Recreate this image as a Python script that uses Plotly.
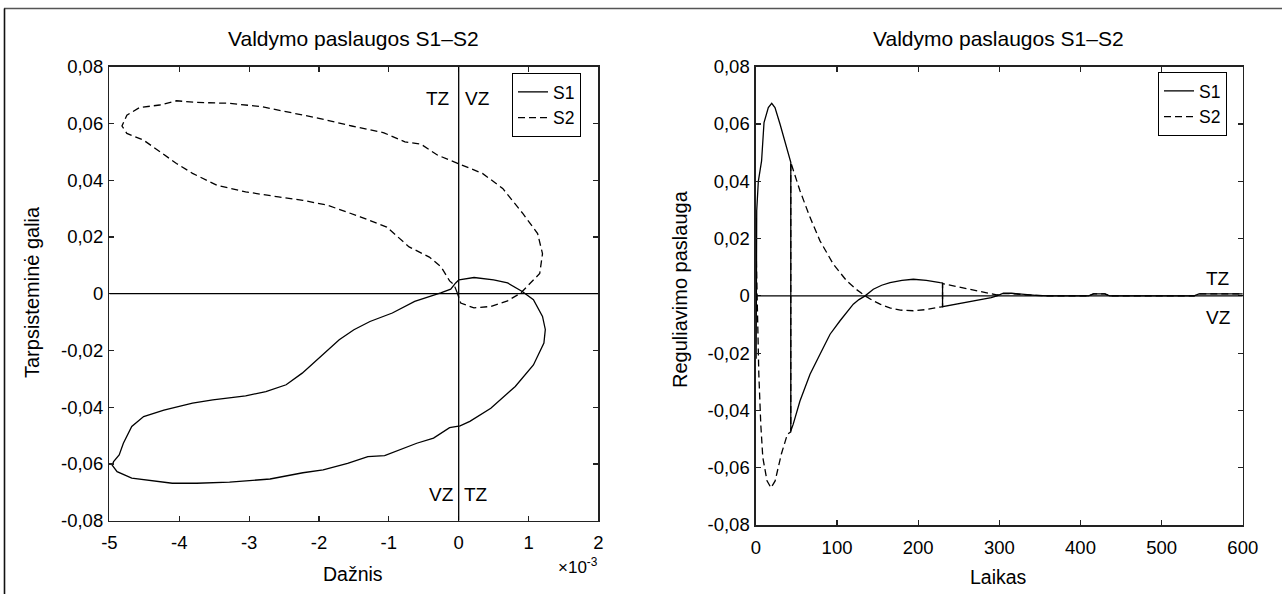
import plotly.graph_objects as go

# ---------------- data ----------------
# Left panel: phase trajectories (x in units of 1e-3)
s1_loop_x = [0.004, -0.043, -0.114, -0.257, -0.63, -0.95, -1.27, -1.5, -1.71, -2.03, -2.24, -2.47, -2.76,
             -3.05, -3.52, -3.81, -4.22, -4.51, -4.68, -4.8, -4.83, -4.86, -4.94, -4.96, -4.89, -4.68,
             -4.1, -3.75, -3.28, -2.7, -2.23, -1.94, -1.59, -1.3, -1.06, -0.6, -0.36, -0.13, 0.02, 0.16,
             0.46, 0.81, 1.07, 1.22, 1.24, 1.2, 1.07, 0.91, 0.7, 0.5, 0.22, 0.004]
s1_loop_y = [0.0049, 0.0038, 0.0016, 0.0003, -0.0027, -0.0068, -0.0098, -0.0127, -0.0162, -0.0233,
             -0.028, -0.0321, -0.0345, -0.036, -0.0374, -0.0386, -0.041, -0.0433, -0.0468, -0.0527,
             -0.0545, -0.0568, -0.0592, -0.0604, -0.0627, -0.065, -0.0668, -0.0668, -0.0664, -0.0653,
             -0.0631, -0.0621, -0.0598, -0.0574, -0.0571, -0.0527, -0.0509, -0.0472, -0.0466, -0.045,
             -0.0404, -0.0327, -0.0251, -0.0174, -0.0126, -0.008, -0.0021, 0.0008, 0.0038, 0.0049,
             0.0057, 0.0049]
s2_loop_x = [-0.019, -0.067, -0.13, -0.25, -0.42, -0.71, -1.03, -1.41, -1.88, -2.23, -2.58, -3.05, -3.46,
             -3.81, -4.04, -4.34, -4.51, -4.75, -4.82, -4.75, -4.57, -4.28, -4.04, -3.75, -3.28, -2.82,
             -2.47, -2.0, -1.53, -1.07, -0.77, -0.54, -0.3, 0.0, 0.34, 0.63, 0.92, 1.13, 1.2, 1.16, 1.03,
             0.886, 0.7, 0.457, 0.219, 0.029, -0.019]
s2_loop_y = [0.0002, 0.0032, 0.0045, 0.0094, 0.0129, 0.0165, 0.0235, 0.0271, 0.0312, 0.0329, 0.0341,
             0.0359, 0.0382, 0.0424, 0.0459, 0.0512, 0.0541, 0.0565, 0.0591, 0.0629, 0.0656, 0.0665,
             0.068, 0.0674, 0.0671, 0.0659, 0.0641, 0.0618, 0.0591, 0.0567, 0.0535, 0.0527, 0.0488,
             0.0459, 0.0424, 0.0371, 0.0282, 0.0212, 0.0141, 0.0071, 0.0038, 0.0002, -0.0025, -0.0045,
             -0.005, -0.0033, 0.0002]

# Right panel: time series
t_s1 = [0.3, 1, 3, 7, 10, 15.3, 19.5, 23.5, 29.7, 35.9, 43, 43, 46, 54.3, 66.7, 79, 91.4, 103.7, 112,
        120, 127, 134.6, 144.7, 155, 165.3, 180, 194, 210, 227, 230, 230, 250, 270, 290, 297, 305,
        315, 330, 345, 360, 410, 416, 430, 436, 540, 546, 600]
s1_val = [-0.022, 0.0297, 0.04, 0.0471, 0.0605, 0.0657, 0.0672, 0.0657, 0.06, 0.0541, 0.0466, -0.0472,
          -0.0448, -0.0367, -0.0274, -0.0204, -0.0134, -0.0087, -0.0056, -0.0029, -0.0013, 0.0, 0.0023,
          0.0037, 0.0046, 0.0054, 0.0058, 0.0054, 0.0046, 0.0045, -0.0038, -0.0028, -0.0017, -0.0006,
          0.0, 0.0009, 0.0009, 0.0005, 0.0002, 0.0, 0.0, 0.0007, 0.0007, 0.0, 0.0, 0.0007, 0.0007]
t_s2 = [0, 1.5, 3.6, 6, 8.5, 13.7, 18.6, 23.7, 31.3, 38.8, 43, 43, 54.3, 66.7, 79, 95.5, 112, 124,
        134.6, 145, 153, 165, 178, 194, 210, 227, 230, 230, 250, 270, 290, 297, 305, 315, 330, 345,
        360, 410, 416, 430, 436, 540, 546, 600]
s2_val = [0.02, -0.005, -0.0273, -0.0448, -0.0564, -0.0646, -0.067, -0.0646, -0.0553, -0.0483, -0.0475,
          0.0466, 0.0367, 0.0274, 0.0192, 0.011, 0.0052, 0.0022, 0.0, -0.0018, -0.0029, -0.0042, -0.005,
          -0.0052, -0.0048, -0.0039, -0.0038, 0.0043, 0.0031, 0.0019, 0.0007, 0.0003, 0.0008, 0.0008,
          0.0004, 0.0001, 0.0, 0.0, 0.0007, 0.0007, 0.0, 0.0, 0.0007, 0.0007]

# Tick labels
y_ticks = [-0.08, -0.06, -0.04, -0.02, 0, 0.02, 0.04, 0.06, 0.08]
y_ticktext = ["-0,08", "-0,06", "-0,04", "-0,02", "0", "0,02", "0,04", "0,06", "0,08"]
x1_ticks = [-5, -4, -3, -2, -1, 0, 1, 2]
x1_ticktext = ["-5", "-4", "-3", "-2", "-1", "0", "1", "2"]
x2_ticks = [0, 100, 200, 300, 400, 500, 600]
x2_ticktext = ["0", "100", "200", "300", "400", "500", "600"]

title_text = "Valdymo paslaugos S1–S2"
x1_title = "Dažnis"
y1_title = "Tarpsisteminė galia"
x2_title = "Laikas"
y2_title = "Reguliavimo paslauga"

# ---------------- figure ----------------
W, H = 1282, 594
FONT = "Liberation Sans, Arial, sans-serif"
TICKFONT = dict(family=FONT, size=18.5, color="black")
LW = 1.3
DASH = "7px,4px"


def px(x):
    return x / W


def py(y):
    return 1 - y / H


fig = go.Figure()
fig.add_trace(go.Scatter(x=s1_loop_x, y=s1_loop_y, mode="lines", name="S1",
                         line=dict(color="black", width=LW), xaxis="x", yaxis="y", legend="legend"))
fig.add_trace(go.Scatter(x=s2_loop_x, y=s2_loop_y, mode="lines", name="S2",
                         line=dict(color="black", width=LW, dash=DASH), xaxis="x", yaxis="y",
                         legend="legend"))
fig.add_trace(go.Scatter(x=t_s1, y=s1_val, mode="lines", name="S1",
                         line=dict(color="black", width=LW), xaxis="x2", yaxis="y2", legend="legend2"))
fig.add_trace(go.Scatter(x=t_s2, y=s2_val, mode="lines", name="S2",
                         line=dict(color="black", width=LW, dash=DASH), xaxis="x2", yaxis="y2",
                         legend="legend2"))

axis_common = dict(showgrid=False, zeroline=False, showline=True, linecolor="#222", linewidth=1.5,
                   mirror="ticks", ticks="inside", ticklen=5, tickwidth=1.2, tickcolor="#222",
                   tickfont=TICKFONT, automargin=False)

fig.update_layout(
    template="none",
    width=W, height=H,
    margin=dict(l=0, r=0, t=0, b=0, pad=0, autoexpand=False),
    paper_bgcolor="white", plot_bgcolor="white",
    font=dict(family=FONT, color="black"),
    xaxis=dict(domain=[px(109.4), px(598.4)], range=[-5, 2], tickvals=x1_ticks,
               ticktext=x1_ticktext, anchor="y", ticklabelstandoff=5, **axis_common),
    yaxis=dict(domain=[py(520.7), py(66.7)], range=[-0.08, 0.08], tickvals=y_ticks,
               ticktext=y_ticktext, anchor="x", ticklabelstandoff=1, **axis_common),
    xaxis2=dict(domain=[px(755.9), px(1242.8)], range=[0, 600], tickvals=x2_ticks,
                ticktext=x2_ticktext, anchor="y2", ticklabelstandoff=5, **axis_common),
    yaxis2=dict(domain=[py(525), py(66.7)], range=[-0.08, 0.08], tickvals=y_ticks,
                ticktext=y_ticktext, anchor="x2", ticklabelstandoff=1, **axis_common),
    legend=dict(x=px(512), y=py(73), xanchor="left", yanchor="top", bgcolor="white",
                bordercolor="black", borderwidth=1, font=dict(family=FONT, size=17.5),
                tracegroupgap=0, itemwidth=30),
    legend2=dict(x=px(1158), y=py(72), xanchor="left", yanchor="top", bgcolor="white",
                 bordercolor="black", borderwidth=1, font=dict(family=FONT, size=17.5),
                 tracegroupgap=0, itemwidth=30),
    showlegend=True,
)

# reference lines
fig.add_shape(type="line", xref="x", yref="y", x0=-5, x1=2, y0=0, y1=0,
              line=dict(color="black", width=1.3))
fig.add_shape(type="line", xref="x", yref="y", x0=0, x1=0, y0=-0.08, y1=0.08,
              line=dict(color="black", width=1.3))
fig.add_shape(type="line", xref="x2", yref="y2", x0=0, x1=600, y0=0, y1=0,
              line=dict(color="black", width=1.3))

# outer frame (top and left edges)
fig.add_shape(type="line", xref="paper", yref="paper", x0=px(4), x1=1, y0=py(8.5), y1=py(8.5),
              line=dict(color="#555", width=1.6))
fig.add_shape(type="line", xref="paper", yref="paper", x0=px(4.5), x1=px(4.5), y0=0, y1=py(8.5),
              line=dict(color="#111", width=1.6))


def ann(text, x, y, size=19, angle=0, xanchor="center"):
    fig.add_annotation(text=text, x=px(x), y=py(y), xref="paper", yref="paper", showarrow=False,
                       xanchor=xanchor, yanchor="middle", textangle=angle,
                       font=dict(family=FONT, size=size, color="black"))


ann(title_text, 353, 38, size=21)
ann(title_text, 998, 38, size=21)
ann(x1_title, 353, 574, size=19.5)
ann(x2_title, 998, 577, size=19.5)
ann(y1_title, 32, 292, size=20, angle=-90)
ann(y2_title, 680, 289, size=20, angle=-90)
ann("×10<sup>-3</sup>", 578, 566, size=17)
ann("TZ", 438, 98)
ann("VZ", 477, 98)
ann("VZ", 441, 494)
ann("TZ", 476, 494)
ann("TZ", 1218, 278)
ann("VZ", 1218, 317)

fig.write_html(
    "out.html",
    config={"displayModeBar": False, "staticPlot": True},
    post_script="document.body.style.margin='0';document.body.style.padding='0';"
                "document.documentElement.style.overflow='hidden';document.body.style.overflow='hidden';",
)
